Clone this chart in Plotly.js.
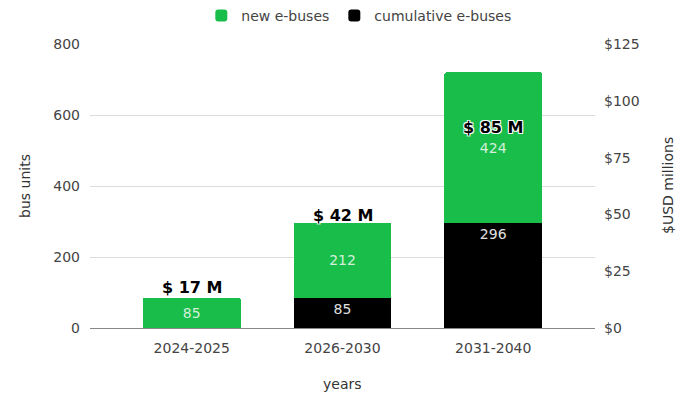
<!DOCTYPE html>
<html>
<head>
<meta charset="utf-8">
<script src="https://cdn.plot.ly/plotly-3.0.1.min.js"></script>
<style>html,body{margin:0;padding:0;background:#fff;}#chart{width:677px;height:398px;}</style>
</head>
<body>
<div id="chart"></div>
<script>
const categories = ['2024-2025', '2026-2030', '2031-2040'];
const cumulativeBuses = [0, 85, 296];
const newBuses = [85, 212, 424];
const costMillions = [17, 42, 85];
const costLabels = ['$ 17 M', '$ 42 M', '$ 85 M'];
const leftTicks = [0, 200, 400, 600, 800];
const rightTicks = [0, 25, 50, 75, 100, 125];
const rightTickLabels = ['$0', '$25', '$50', '$75', '$100', '$125'];

const FONT = 'DejaVu Sans, Verdana, sans-serif';
const GREEN = '#19bd4a';
const FS = 14;

const traces = [
  {
    type: 'bar', name: 'cumulative e-buses', x: categories, y: cumulativeBuses,
    marker: {color: '#000000', cornerradius: 2},
    text: cumulativeBuses.map(v => v > 0 ? String(v) : ''),
    textposition: 'inside', insidetextanchor: 'end',
    textfont: {family: FONT, size: FS, color: '#e0e0e0'},
    hoverinfo: 'x+y', width: 0.65
  },
  {
    type: 'bar', name: 'new e-buses', x: categories, y: newBuses,
    marker: {color: GREEN, cornerradius: 2},
    text: newBuses.map(String),
    textposition: 'inside', insidetextanchor: 'middle',
    textfont: {family: FONT, size: FS, color: '#d2f0da'},
    hoverinfo: 'x+y', width: 0.65
  },
  {
    type: 'scatter', mode: 'lines', x: categories, y: costMillions, yaxis: 'y2',
    line: {color: 'rgba(0,0,0,0)'}, showlegend: false, hoverinfo: 'skip'
  }
];

const shifts = [2, 17, 7];
const annotations = costLabels.map((t, i) => ({
  text: t, x: categories[i], y: costMillions[i], xref: 'x', yref: 'y2',
  showarrow: false, yanchor: 'middle', yshift: shifts[i],
  font: {family: FONT, size: 16, color: '#000', weight: 'bold',
         shadow: '1px 1px 0 #fff, -1px -1px 0 #fff, 1px -1px 0 #fff, -1px 1px 0 #fff'}
}));
annotations.push(
  {text: 'bus units', xref: 'paper', yref: 'paper', x: 0, y: 0.5, xshift: -75,
   textangle: -90, showarrow: false, font: {family: FONT, size: FS, color: '#333'}},
  {text: '$USD millions', xref: 'paper', yref: 'paper', x: 1, y: 0.5, xshift: 83,
   textangle: -90, showarrow: false, font: {family: FONT, size: FS, color: '#333'}},
  {text: 'years', xref: 'paper', yref: 'paper', x: 0.5, y: 0, yshift: -66,
   showarrow: false, font: {family: FONT, size: FS, color: '#333'}}
);

const layout = {
  width: 677, height: 398,
  margin: {l: 90, r: 82, t: 44, b: 70},
  paper_bgcolor: '#fff', plot_bgcolor: '#fff',
  barmode: 'stack', bargap: 0.35,
  font: {family: FONT, size: FS, color: '#444'},
  showlegend: true,
  legend: {orientation: 'h', xref: 'container', yref: 'container', x: 0.530, xanchor: 'center',
           y: 1, yanchor: 'top', traceorder: 'reversed', itemwidth: 30,
           font: {family: FONT, size: FS, color: '#444'}, itemclick: false},
  xaxis: {range: [-0.675, 2.675], showgrid: false, zeroline: false, showline: false,
          ticks: '', ticklabelstandoff: 10,
          tickfont: {family: FONT, size: FS, color: '#444'}, fixedrange: true},
  yaxis: {range: [0, 800], tickvals: leftTicks, showgrid: true, gridcolor: '#dcdcdc',
          zeroline: true, zerolinecolor: '#888', zerolinewidth: 1, showline: false, ticks: '',
          ticklabelstandoff: 9, tickfont: {family: FONT, size: FS, color: '#444'}, fixedrange: true},
  yaxis2: {range: [0, 125], tickmode: 'array', tickvals: rightTicks, ticktext: rightTickLabels,
           overlaying: 'y', side: 'right',
           showgrid: false, zeroline: false, showline: false, ticks: '', ticklabelstandoff: 8,
           tickfont: {family: FONT, size: FS, color: '#444'}, fixedrange: true},
  annotations: annotations
};

Plotly.newPlot('chart', traces, layout, {displayModeBar: false, staticPlot: true});
</script>
</body>
</html>
